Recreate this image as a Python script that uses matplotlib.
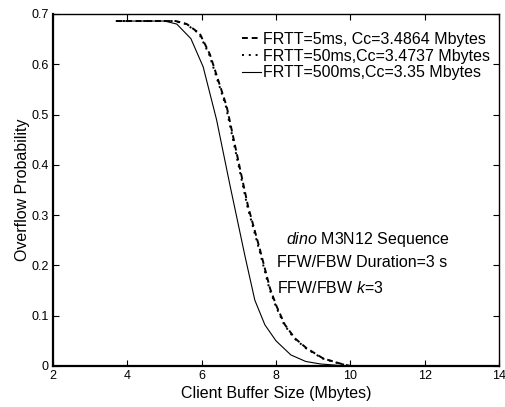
import matplotlib
matplotlib.use("Agg")
import matplotlib.pyplot as plt

plt.rcParams['font.family'] = ['Liberation Sans', 'DejaVu Sans']
plt.rcParams['mathtext.fontset'] = 'custom'
plt.rcParams['mathtext.rm'] = 'Liberation Sans'
plt.rcParams['mathtext.it'] = 'Liberation Sans:italic'

# Data
x_5ms = [3.7, 5.3, 5.6, 5.95, 6.22, 6.67, 7.25, 7.57, 7.84, 8.02, 8.24, 8.51, 8.83, 9.27, 9.72, 10.0]
y_5ms = [0.686, 0.686, 0.680, 0.661, 0.620, 0.517, 0.317, 0.231, 0.154, 0.118, 0.082, 0.055, 0.035, 0.015, 0.005, 0.0]

x_50ms = [3.7, 5.28, 5.58, 5.93, 6.20, 6.65, 7.23, 7.55, 7.82, 8.00, 8.22, 8.49, 8.81, 9.25, 9.70, 9.98]
y_50ms = [0.686, 0.686, 0.680, 0.661, 0.620, 0.517, 0.317, 0.231, 0.154, 0.118, 0.082, 0.055, 0.035, 0.015, 0.005, 0.0]

x_500ms = [3.7, 5.0, 5.33, 5.71, 6.04, 6.40, 6.76, 7.17, 7.43, 7.70, 8.00, 8.40, 8.80, 9.20, 9.72]
y_500ms = [0.686, 0.686, 0.680, 0.651, 0.595, 0.490, 0.360, 0.217, 0.131, 0.082, 0.050, 0.022, 0.009, 0.004, 0.001]

labels = ['FRTT=5ms, Cc=3.4864 Mbytes', 'FRTT=50ms,Cc=3.4737 Mbytes', 'FRTT=500ms,Cc=3.35 Mbytes']
xticks = [2, 4, 6, 8, 10, 12, 14]
yticks = [0, 0.1, 0.2, 0.3, 0.4, 0.5, 0.6, 0.7]

fig = plt.figure(figsize=(5.06, 4.07), dpi=100)
ax = fig.add_axes([53/506, 1-366/407, 446/506, 352/407])

l1, = ax.plot(x_5ms, y_5ms, color='black', lw=1.4, ls=(0, (3, 2)))
l2, = ax.plot(x_50ms, y_50ms, color='black', lw=1.4, ls=(0, (1, 2.5)))
l3, = ax.plot(x_500ms, y_500ms, color='black', lw=0.8, ls='-')

ax.set_xlim(2, 14)
ax.set_ylim(0, 0.7)
ax.set_xticks(xticks)
ax.set_yticks(yticks)
ax.set_xticklabels([str(t) for t in xticks])
ax.set_yticklabels(['0'] + [f'{t:.1f}' for t in yticks[1:]])
ax.tick_params(direction='in', length=4, width=0.8, labelsize=9, top=True, right=True, pad=3)
for s in ['left', 'bottom']:
    ax.spines[s].set_linewidth(1.6)
for s in ['top', 'right']:
    ax.spines[s].set_linewidth(1.0)

ax.set_xlabel('Client Buffer Size (Mbytes)', fontsize=11.5, labelpad=3)
ax.set_ylabel('Overflow Probability', fontsize=11.5, labelpad=1)

leg = ax.legend([l1, l2, l3], labels, loc='upper left', bbox_to_anchor=((242-53)/446, (366-32)/352),
                frameon=False, fontsize=11.5, handlelength=1.2, handletextpad=0.1,
                labelspacing=0.1, borderaxespad=0, borderpad=0)

ax.text(8.27, 0.252, r'$\it{dino}$ M3N12 Sequence', fontsize=11.5, va='center', ha='left')
ax.text(8.02, 0.205, 'FFW/FBW Duration=3 s', fontsize=11.5, va='center', ha='left')
ax.text(8.02, 0.155, r'FFW/FBW $\it{k}$=3', fontsize=11.5, va='center', ha='left')

fig.savefig('out.png', dpi=100)
